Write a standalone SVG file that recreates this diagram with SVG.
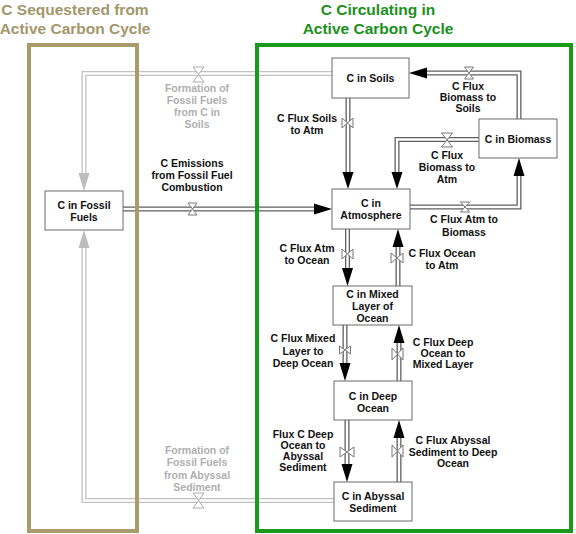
<svg xmlns="http://www.w3.org/2000/svg" width="576" height="534" viewBox="0 0 576 534">
<style>
text{font-family:"Liberation Sans",Arial,sans-serif;font-weight:bold;text-anchor:middle}
.t1{font-size:15.5px;fill:#A2966A}
.t2{font-size:15.5px;fill:#1B911B}
.lbl{font-size:10.5px;fill:#111}
.glbl{font-size:10.5px;fill:#AFAFAF}
.box{fill:#fff;stroke:#6a6a6a;stroke-width:1}
.po{fill:none;stroke:#5f5f5f;stroke-width:5}
.pi{fill:none;stroke:#fff;stroke-width:2.4}
.gpo{fill:none;stroke:#C2C2C2;stroke-width:5}
.ah{fill:#000}
.gah{fill:#BDBDBD}
.v{fill:#fff;stroke:#777;stroke-width:1}
.gv{fill:#fff;stroke:#AAAAAA;stroke-width:1}
</style>
<rect width="576" height="534" fill="#fff"/>
<g id="titles">
<text class="t1" x="75" y="15">C Sequestered from</text>
<text class="t1" x="75" y="34">Active Carbon Cycle</text>
<text class="t2" x="378" y="15">C Circulating in</text>
<text class="t2" x="378" y="34">Active Carbon Cycle</text>
</g>
<g id="connectors">
<path class="gpo" d="M332 73.5 H84 V173"/>
<path class="pi" d="M332 73.5 H84 V173"/>
<path class="gpo" d="M334 500.5 H84 V248"/>
<path class="pi" d="M334 500.5 H84 V248"/>
<polygon class="gah" points="78.5,173 89.5,173 84,191"/>
<polygon class="gah" points="78.5,248 89.5,248 84,230"/>
<path class="gv" d="M193 67 H204 L193 82 H204 Z"/>
<path class="gv" d="M193 493 H204 L193 508 H204 Z"/>

<path class="po" d="M348 98 V172"/><path class="pi" d="M348 98 V172"/>
<polygon class="ah" points="342.5,172 353.5,172 348,189"/>
<path class="v" d="M342 118 V128 L353 118 V128 Z"/>

<path class="po" d="M519 119 V73 H427"/><path class="pi" d="M519 119 V73 H427"/>
<polygon class="ah" points="427,67.5 427,78.5 409,73"/>
<path class="v" d="M464.5 67 H473.5 L464.5 79 H473.5 Z"/>

<path class="po" d="M479 139.5 H397 V172"/><path class="pi" d="M479 139.5 H397 V172"/>
<polygon class="ah" points="391.5,172 402.5,172 397,189"/>
<path class="v" d="M441.5 133 H452.5 L441.5 147 H452.5 Z"/>

<path class="po" d="M410 207 H519 V176"/><path class="pi" d="M410 207 H519 V176"/>
<polygon class="ah" points="513.5,176 524.5,176 519,158"/>
<path class="v" d="M460.5 202 H469.5 L460.5 212 H469.5 Z"/>

<path class="po" d="M123 209 H314"/><path class="pi" d="M123 209 H314"/>
<polygon class="ah" points="314,203.5 314,214.5 332,209"/>
<path class="v" d="M188 203 H197 L188 215 H197 Z"/>

<path class="po" d="M347.5 229 V268"/><path class="pi" d="M347.5 229 V268"/>
<polygon class="ah" points="342,268 353,268 347.5,286"/>
<path class="v" d="M342 249 V259 L353 249 V259 Z"/>

<path class="po" d="M398 286 V247"/><path class="pi" d="M398 286 V247"/>
<polygon class="ah" points="392.5,247 403.5,247 398,229"/>
<path class="v" d="M391 253 V263 L403 253 V263 Z"/>

<path class="po" d="M345 325 V363"/><path class="pi" d="M345 325 V363"/>
<polygon class="ah" points="339.5,363 350.5,363 345,381"/>
<path class="v" d="M339.5 346 V354 L350.5 346 V354 Z"/>

<path class="po" d="M399 381 V343"/><path class="pi" d="M399 381 V343"/>
<polygon class="ah" points="393.5,343 404.5,343 399,325"/>
<path class="v" d="M392 348 V360 L403 348 V360 Z"/>

<path class="po" d="M347 420 V464"/><path class="pi" d="M347 420 V464"/>
<polygon class="ah" points="341.5,464 352.5,464 347,482"/>
<path class="v" d="M340 447 V457 L354 447 V457 Z"/>

<path class="po" d="M399 482 V438"/><path class="pi" d="M399 482 V438"/>
<polygon class="ah" points="393.5,438 404.5,438 399,420"/>
<path class="v" d="M392 445 V457 L403 445 V457 Z"/>
</g>
<g id="regions">
<rect x="29" y="45" width="108" height="486" fill="none" stroke="#A89C6C" stroke-width="4"/>
<rect x="257" y="45" width="314" height="486" fill="none" stroke="#1A9A1A" stroke-width="4"/>
</g>
<g id="flow-labels">
<text class="glbl" x="197" y="92">Formation of</text>
<text class="glbl" x="197" y="104">Fossil Fuels</text>
<text class="glbl" x="197" y="116">from C in</text>
<text class="glbl" x="197" y="128">Soils</text>
<text class="glbl" x="197" y="454">Formation of</text>
<text class="glbl" x="197" y="466">Fossil Fuels</text>
<text class="glbl" x="197" y="479">from Abyssal</text>
<text class="glbl" x="197" y="491">Sediment</text>
<text class="lbl" x="192" y="167">C Emissions</text>
<text class="lbl" x="192" y="179">from Fossil Fuel</text>
<text class="lbl" x="192" y="191">Combustion</text>
<text class="lbl" x="307" y="122">C Flux Soils</text>
<text class="lbl" x="307" y="134">to Atm</text>
<text class="lbl" x="468" y="90">C Flux</text>
<text class="lbl" x="468" y="101">Biomass to</text>
<text class="lbl" x="468" y="112">Soils</text>
<text class="lbl" x="447" y="159">C Flux</text>
<text class="lbl" x="447" y="171">Biomass to</text>
<text class="lbl" x="447" y="183">Atm</text>
<text class="lbl" x="464" y="223">C Flux Atm to</text>
<text class="lbl" x="464" y="236">Biomass</text>
<text class="lbl" x="307" y="252">C Flux Atm</text>
<text class="lbl" x="307" y="264">to Ocean</text>
<text class="lbl" x="442" y="257">C Flux Ocean</text>
<text class="lbl" x="442" y="269">to Atm</text>
<text class="lbl" x="303" y="342">C Flux Mixed</text>
<text class="lbl" x="303" y="355">Layer to</text>
<text class="lbl" x="303" y="367">Deep Ocean</text>
<text class="lbl" x="443" y="346">C Flux Deep</text>
<text class="lbl" x="443" y="357">Ocean to</text>
<text class="lbl" x="443" y="368">Mixed Layer</text>
<text class="lbl" x="303" y="438">Flux C Deep</text>
<text class="lbl" x="303" y="449">Ocean to</text>
<text class="lbl" x="303" y="460">Abyssal</text>
<text class="lbl" x="303" y="471">Sediment</text>
<text class="lbl" x="453" y="444">C Flux Abyssal</text>
<text class="lbl" x="453" y="456">Sediment to Deep</text>
<text class="lbl" x="453" y="467">Ocean</text>
</g>
<g id="node-fossil">
<rect class="box" x="45" y="191" width="78" height="39"/>
<text class="lbl" x="84" y="209">C in Fossil</text>
<text class="lbl" x="84" y="221">Fuels</text>
</g>
<g id="node-soils">
<rect class="box" x="332" y="58" width="77" height="40"/>
<text class="lbl" x="370.5" y="82">C in Soils</text>
</g>
<g id="node-biomass">
<rect class="box" x="479" y="119" width="78" height="39"/>
<text class="lbl" x="518" y="143">C in Biomass</text>
</g>
<g id="node-atmosphere">
<rect class="box" x="332" y="189" width="78" height="40"/>
<text class="lbl" x="371" y="207">C in</text>
<text class="lbl" x="371" y="219">Atmosphere</text>
</g>
<g id="node-mixed">
<rect class="box" x="333" y="286" width="79" height="39"/>
<text class="lbl" x="372.5" y="298">C in Mixed</text>
<text class="lbl" x="372.5" y="310">Layer of</text>
<text class="lbl" x="372.5" y="322">Ocean</text>
</g>
<g id="node-deep">
<rect class="box" x="334" y="381" width="78" height="39"/>
<text class="lbl" x="373" y="400">C in Deep</text>
<text class="lbl" x="373" y="412">Ocean</text>
</g>
<g id="node-abyssal">
<rect class="box" x="334" y="482" width="78" height="39"/>
<text class="lbl" x="373" y="500">C in Abyssal</text>
<text class="lbl" x="373" y="512">Sediment</text>
</g>
</svg>
